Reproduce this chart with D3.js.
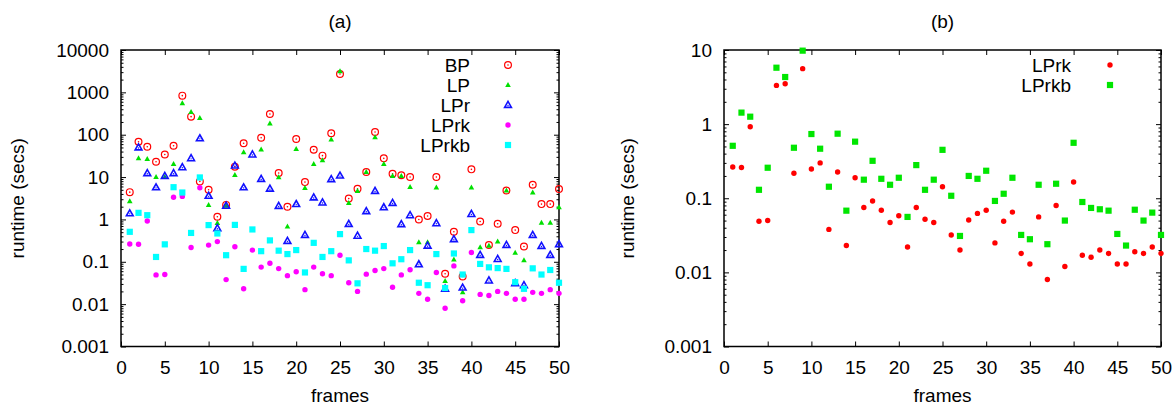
<!DOCTYPE html>
<html>
<head>
<meta charset="utf-8">
<script src="https://cdnjs.cloudflare.com/ajax/libs/d3/7.8.5/d3.min.js"></script>
<style>
  body { margin: 0; background: #fff; }
  svg text { font-family: "Liberation Sans", Arial, sans-serif; font-size: 19px; fill: #000; }
</style>
</head>
<body>
<div id="chart"></div>
<script>
var frames = [1,2,3,4,5,6,7,8,9,10,11,12,13,14,15,16,17,18,19,20,21,22,23,24,25,
              26,27,28,29,30,31,32,33,34,35,36,37,38,39,40,41,42,43,44,45,46,47,48,49,50];

var bp = [4.4, 68, 52, 23, 34, 55, 835, 267, 7.9, 5.0,
          1.16, 2.2, 17.6, 63, null, 85, 308, 12.5, 2.0, 79,
          7.6, 44, 32, 108, 2710, 3.1, 5.3, 13.2, 116, 27.7,
          12, 11, 10, 1.0, 1.2, 10, 0.052, 0.51, 0.045, 15.2,
          0.89, 0.25, 0.79, 4.8, 0.56, 0.23, 6.6, 2.3, 2.3, 5.2];

var lp = [2.7, 28, 26.7, 10, 10.1, 20.4, 551, 344, 248, 2.19,
          0.82, 2.1, 11.2, 38.4, null, 45, 185, 9.9, 0.68, 46,
          5.5, 20.4, 24.9, 76.6, 3130, 2.45, 4.7, 13.2, 87, 20.4,
          10.6, 10.6, 5.8, 0.29, 0.29, 5.7, 0.035, 0.114, 0.019, 5.7,
          0.22, 0.24, 0.30, 4.8, 0.164, 0.108, 4.3, 0.84, 0.83, 1.95];

var lpr = [1.39, 50, 12.3, 5.7, 10.6, 12.3, 17, 27.7, 82, 3.6,
           0.62, 2.1, 18.6, 5.7, 34, 9.0, 5.3, 2.08, 0.31, 2.3,
           0.43, 3.3, 2.5, 8.9, 10.8, 0.78, 0.41, 1.56, 4.7, 1.93,
           2.45, 0.77, 1.25, 0.087, 0.24, 0.81, 0.023, 0.34, 0.0245, 1.34,
           0.145, 0.036, 0.116, 0.25, 0.031, 0.028, 0.43, 0.236, 0.145, 0.26];

var lprk = [0.264, 0.26, 0.92, 0.049, 0.05, 3.33, 3.5, 0.217, 5.6, 0.248,
            0.3, 0.038, 0.226, 0.023, 0.189, 0.075, 0.092, 0.069, 0.047, 0.058,
            0.022, 0.075, 0.052, 0.047, 0.143, 0.032, 0.02, 0.051, 0.0625, 0.069,
            0.025, 0.049, 0.065, 0.018, 0.013, 0.056, 0.008, 0.08, 0.012, 0.166,
            0.017, 0.016, 0.02, 0.018, 0.013, 0.013, 0.019, 0.018, 0.022, 0.018];

var lprkb = [0.51, 1.43, 1.26, 0.13, 0.258, 5.77, 4.32, 0.48, 9.8, 0.735,
             0.466, 0.143, 0.743, 0.068, 0.58, 0.178, 0.32, 0.183, 0.152, 0.189,
             0.056, 0.28, 0.13, 0.178, 0.45, 0.108, 0.031, 0.2, 0.183, 0.235,
             0.092, 0.115, 0.189, 0.032, 0.028, 0.152, 0.024, 0.157, 0.05, 0.56,
             0.089, 0.074, 0.071, 0.068, 0.033, 0.023, 0.07, 0.05, 0.064, 0.032];

var xTicks = [0, 5, 10, 15, 20, 25, 30, 35, 40, 45, 50];
var yTicksA = [0.001, 0.01, 0.1, 1, 10, 100, 1000, 10000];
var yTicksB = [0.001, 0.01, 0.1, 1, 10];

var width = 1176, height = 406;

var svg = d3.select('#chart')
    .append('svg')
    .attr('width', width)
    .attr('height', height);

// marker drawing functions, each gets a selection of <g> positioned at the point
var markers = {
    circleDot: function(g, color) {
        g.append('circle').attr('r', 3.4).style('fill', 'none')
            .style('stroke', color).style('stroke-width', 1.2);
        g.append('circle').attr('r', 0.8).style('fill', color);
    },
    triFill: function(g, color) {
        g.append('path').attr('d', 'M0,-3 L2.8,2 L-2.8,2 Z').style('fill', color);
    },
    triOpen: function(g, color) {
        g.append('path').attr('d', 'M0,-3.6 L3.4,2.4 L-3.4,2.4 Z').style('fill', 'none')
            .style('stroke', color).style('stroke-width', 1.6);
        g.append('circle').attr('r', 0.7).attr('cy', 0.5).style('fill', color);
    },
    dot: function(g, color) {
        g.append('circle').attr('r', 2.7).style('fill', color);
    },
    square: function(g, color) {
        g.append('rect').attr('x', -3.1).attr('y', -3.1).attr('width', 6.2).attr('height', 6.2)
            .style('fill', color);
    }
};

function minorTicks(domain) {
    var out = [];
    for (var e = Math.round(Math.log10(domain[0])); e < Math.round(Math.log10(domain[1])); e++) {
        for (var m = 2; m <= 9; m++) out.push(m * Math.pow(10, e));
    }
    return out;
}

function drawPanel(opts) {
    var g = svg.append('g');
    var x = d3.scaleLinear().domain([0, 50]).range([opts.left, opts.right]);
    var y = d3.scaleLog().domain(opts.yDomain).range([opts.bottom, opts.top]);
    var fmt = function(d) { return String(d); };

    // major and minor ticks, inside the frame, mirrored on the opposite sides
    g.append('g').attr('transform', `translate(${opts.left},0)`)
        .call(d3.axisLeft(y).tickValues(opts.yTicks).tickFormat(fmt).tickSizeInner(-5).tickSizeOuter(0).tickPadding(12));
    g.append('g').attr('transform', `translate(${opts.left},0)`)
        .call(d3.axisLeft(y).tickValues(minorTicks(opts.yDomain)).tickFormat('').tickSizeInner(-2.5).tickSizeOuter(0));
    g.append('g').attr('transform', `translate(${opts.right},0)`)
        .call(d3.axisRight(y).tickValues(opts.yTicks).tickFormat('').tickSizeInner(-5).tickSizeOuter(0));
    g.append('g').attr('transform', `translate(${opts.right},0)`)
        .call(d3.axisRight(y).tickValues(minorTicks(opts.yDomain)).tickFormat('').tickSizeInner(-2.5).tickSizeOuter(0));
    g.append('g').attr('transform', `translate(0,${opts.bottom})`)
        .call(d3.axisBottom(x).tickValues(xTicks).tickFormat(fmt).tickSizeInner(-5).tickSizeOuter(0).tickPadding(14));
    g.append('g').attr('transform', `translate(0,${opts.top})`)
        .call(d3.axisTop(x).tickValues(xTicks).tickFormat('').tickSizeInner(-5).tickSizeOuter(0));

    g.selectAll('.domain').remove();
    g.selectAll('.tick line').style('stroke', '#000').style('stroke-width', 1);
    g.selectAll('.tick text').style('font-size', '19px')
        .style('font-family', '"Liberation Sans", Arial, sans-serif').style('fill', '#000');

    // frame
    g.append('rect')
        .attr('x', opts.left).attr('y', opts.top)
        .attr('width', opts.right - opts.left).attr('height', opts.bottom - opts.top)
        .style('fill', 'none').style('stroke', '#000').style('stroke-width', 1.5);

    // points
    opts.series.forEach(function(s) {
        var pts = frames.map(function(f, i) { return { f: f, v: s.values[i] }; })
            .filter(function(d) { return d.v != null; });
        g.append('g').selectAll('g')
            .data(pts)
            .enter()
            .append('g')
            .attr('transform', function(d) { return `translate(${x(d.f)},${y(d.v)})`; })
            .each(function() { markers[s.marker](d3.select(this), s.color); });
    });

    // legend
    opts.series.forEach(function(s, i) {
        var ly = opts.legendY + i * 20;
        g.append('text')
            .attr('x', opts.legendTextX).attr('y', ly)
            .attr('dy', '0.35em')
            .attr('text-anchor', 'end')
            .text(s.name);
        markers[s.marker](g.append('g').attr('transform', `translate(${opts.legendMarkX},${ly})`), s.color);
    });

    // titles and axis labels
    g.append('text')
        .attr('x', (opts.left + opts.right) / 2).attr('y', 21).attr('dy', '0.35em')
        .attr('text-anchor', 'middle').text(opts.title);
    g.append('text')
        .attr('x', (opts.left + opts.right) / 2).attr('y', 395).attr('dy', '0.35em')
        .attr('text-anchor', 'middle').text('frames');
    g.append('text')
        .attr('transform', `translate(${opts.yLabelX},${(opts.top + opts.bottom) / 2}) rotate(-90)`)
        .attr('dy', '0.35em')
        .attr('text-anchor', 'middle').text('runtime (secs)');
}

drawPanel({
    title: '(a)', left: 121, right: 559, top: 50, bottom: 346.5,
    yDomain: [0.001, 10000], yTicks: yTicksA, yLabelX: 17,
    legendY: 65, legendTextX: 470, legendMarkX: 508,
    series: [
        { name: 'BP', values: bp, marker: 'circleDot', color: '#ff0000' },
        { name: 'LP', values: lp, marker: 'triFill', color: '#00e000' },
        { name: 'LPr', values: lpr, marker: 'triOpen', color: '#1010ff' },
        { name: 'LPrk', values: lprk, marker: 'dot', color: '#ff00ff' },
        { name: 'LPrkb', values: lprkb, marker: 'square', color: '#00ffff' }
    ]
});

drawPanel({
    title: '(b)', left: 724, right: 1161, top: 50, bottom: 346.5,
    yDomain: [0.001, 10], yTicks: yTicksB, yLabelX: 627,
    legendY: 65, legendTextX: 1071, legendMarkX: 1110,
    series: [
        { name: 'LPrk', values: lprk, marker: 'dot', color: '#ff0000' },
        { name: 'LPrkb', values: lprkb, marker: 'square', color: '#00e600' }
    ]
});
</script>
</body>
</html>
